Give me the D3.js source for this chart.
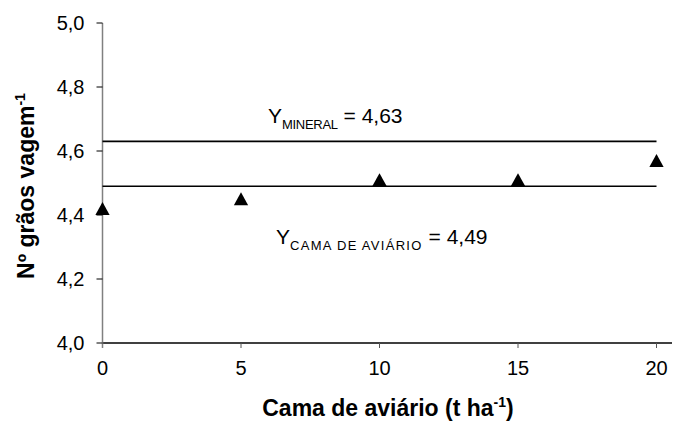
<!DOCTYPE html>
<html>
<head>
<meta charset="utf-8">
<script src="https://cdn.jsdelivr.net/npm/d3@7"></script>
<style>
  html,body{margin:0;padding:0;background:#fff;}
  svg{display:block;font-family:"Liberation Sans",Arial,sans-serif;}
</style>
</head>
<body>
<svg id="chart" width="674" height="432"></svg>
<script>
// dados
var doses=[0,5,10,15,20];
var graos=[4.42,4.45,4.51,4.51,4.57];
var yMineral=4.63;
var yCama=4.49;
var xTicks=[0,5,10,15,20];
var yTicks=[4.0,4.2,4.4,4.6,4.8,5.0];

var svg=d3.select('#chart');
var x=d3.scaleLinear().domain([0,20]).range([102.5,656.5]);
var y=d3.scaleLinear().domain([4,5]).range([343,23]);
var fmt=function(d){return d3.format('.1f')(d).replace('.',',');};

// eixo x
var gx=svg.append('g').attr('transform','translate(0,'+y(4)+')');
gx.append('line').attr('x1',x(0)).attr('x2',672).attr('y1',0).attr('y2',0).attr('stroke','#000').attr('stroke-width',1.3);
gx.selectAll('.tk').data(xTicks).enter().append('line')
  .attr('x1',function(d){return x(d);}).attr('x2',function(d){return x(d);})
  .attr('y1',0).attr('y2',5).attr('stroke','#555').attr('stroke-width',1);
gx.selectAll('.lb').data(xTicks).enter().append('text')
  .attr('x',function(d){return x(d);}).attr('y',32).attr('text-anchor','middle')
  .attr('font-size','20px').attr('fill','#000').text(function(d){return d;});

// eixo y
var gy=svg.append('g').attr('transform','translate('+x(0)+',0)');
gy.append('line').attr('x1',0).attr('x2',0).attr('y1',y(5)).attr('y2',y(4)+5).attr('stroke','#808080').attr('stroke-width',1.5);
gy.selectAll('.tk').data(yTicks).enter().append('line')
  .attr('x1',-6).attr('x2',0)
  .attr('y1',function(d){return y(d);}).attr('y2',function(d){return y(d);})
  .attr('stroke','#000').attr('stroke-width',1);
gy.selectAll('.lb').data(yTicks).enter().append('text')
  .attr('x',-18).attr('y',function(d){return y(d)+7;}).attr('text-anchor','end')
  .attr('font-size','20px').attr('fill','#000').text(fmt);

// linhas das médias
[yMineral,yCama].forEach(function(v){
  svg.append('line').attr('x1',x(0)).attr('x2',x(20)).attr('y1',y(v)).attr('y2',y(v))
    .attr('stroke','#000').attr('stroke-width',1.6);
});

// pontos
svg.selectAll('.pt').data(doses).enter().append('path')
  .attr('d',d3.symbol().type(d3.symbolTriangle).size(88))
  .attr('transform',function(d,i){return 'translate('+x(d)+','+(y(graos[i])+2)+') scale(1,1.05)';})
  .attr('fill','#000');

// rótulos das equações
var t1=svg.append('text').attr('x',268).attr('y',123).attr('font-size','21px').attr('fill','#000');
t1.append('tspan').text('Y');
t1.append('tspan').attr('font-size','13px').attr('dy',6).attr('letter-spacing','-0.3px').text('MINERAL');
t1.append('tspan').attr('dy',-6).attr('letter-spacing','0px').text(' = '+String(yMineral).replace('.',','));

var t2=svg.append('text').attr('x',276).attr('y',244).attr('font-size','21px').attr('fill','#000');
t2.append('tspan').text('Y');
t2.append('tspan').attr('font-size','13px').attr('dy',6).attr('letter-spacing','1.3px').text('CAMA DE AVIÁRIO');
t2.append('tspan').attr('dy',-6).attr('letter-spacing','0px').text(' = '+String(yCama).replace('.',','));

// títulos dos eixos
var xt=svg.append('text').attr('x',388).attr('y',416).attr('text-anchor','middle')
  .attr('font-size','23px').attr('font-weight','bold').attr('fill','#000');
xt.append('tspan').text('Cama de aviário (t ha');
xt.append('tspan').attr('font-size','14px').attr('dy',-9).text('-1');
xt.append('tspan').attr('dy',9).text(')');

var yt=svg.append('text').attr('transform','translate(34,186) rotate(-90)').attr('text-anchor','middle')
  .attr('font-size','23px').attr('font-weight','bold').attr('fill','#000');
yt.append('tspan').text('Nº grãos vagem');
yt.append('tspan').attr('font-size','14px').attr('dy',-9).text('-1');
</script>
</body>
</html>
